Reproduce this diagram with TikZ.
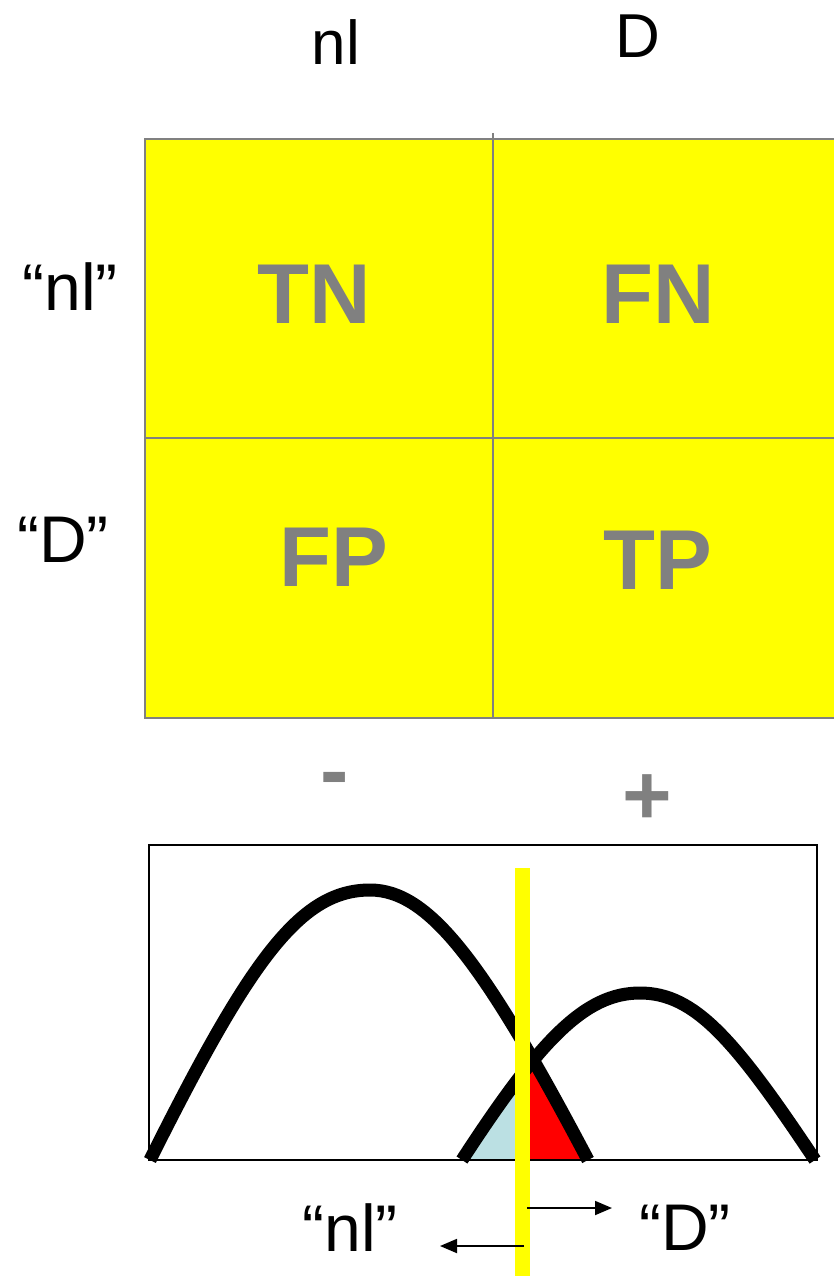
\documentclass[tikz,border=0pt]{standalone}
\usepackage{fontspec}
\setmainfont{Liberation Sans}
\usetikzlibrary{arrows.meta}
\definecolor{cellgray}{HTML}{808080}
\definecolor{lightblue}{HTML}{BBE0E3}
\definecolor{pureyellow}{RGB}{255,255,0}
\definecolor{purered}{RGB}{255,0,0}
\begin{document}
\begin{tikzpicture}[x=1pt,y=-1pt,
  celltext/.style={font=\fontsize{85}{85}\selectfont\bfseries, text=cellgray, inner sep=0pt},
  toplabel/.style={font=\fontsize{62}{62}\selectfont, inner sep=0pt},
  sidelabel/.style={font=\fontsize{66}{66}\selectfont, inner sep=0pt},
  gridline/.style={draw=cellgray, line width=2pt},
  curve/.style={line width=13pt, black},
  thinarrow/.style={line width=1.8pt, -{Triangle[length=17pt,width=14pt]}}
]
\useasboundingbox (0,0) rectangle (833,1276);
% confusion matrix
\fill[pureyellow] (145,139) rectangle (840,718);
\draw[gridline] (840,139) -- (145,139) -- (145,718) -- (840,718);
\draw[gridline] (145,438) -- (840,438);
\draw[gridline] (493,133) -- (493,718);
\node[toplabel] (colnl) at (336,42) {nl};
\node[toplabel] (colD) at (638,36) {D};
\node[sidelabel] (rownl) at (70,287) {“nl”};
\node[sidelabel] (rowD) at (63,540) {“D”};
\node[celltext] (TN) at (314,294) {TN};
\node[celltext] (FN) at (658,294) {FN};
\node[celltext] (FP) at (334,557) {FP};
\node[celltext] (TP) at (658,560) {TP};
\node[celltext, anchor=base] (minus) at (335,799) {-};
\node[celltext] (plus) at (647,800) {+};
% distributions
\def\leftcurve{(150,1160) .. controls (250,960) and (300,890) .. (370,890) .. controls (430,890) and (485,965) .. (588,1160)}
\def\rightcurve{(462,1160) .. controls (540,1040) and (585,993) .. (640,993) .. controls (695,993) and (735,1040) .. (815,1160)}
\begin{scope}
  \clip \leftcurve -- cycle;
  \begin{scope}
    \clip (400,800) rectangle (522,1160);
    \fill[lightblue] \rightcurve -- cycle;
  \end{scope}
  \begin{scope}
    \clip (522,800) rectangle (700,1160);
    \fill[purered] \rightcurve -- cycle;
  \end{scope}
\end{scope}
\draw[curve] \leftcurve;
\draw[curve] \rightcurve;
\draw[line width=2pt] (149,845) rectangle (817,1160);
\fill[pureyellow] (515,868) rectangle (530,1276);
\coordinate (thr1) at (527,1208);
\coordinate (dend) at (612,1208);
\coordinate (thr2) at (524,1246);
\coordinate (nlend) at (440,1246);
\draw[thinarrow] (thr1) -- (dend);
\draw[thinarrow] (thr2) -- (nlend);
\node[sidelabel] (outnl) at (350,1228) {“nl”};
\node[sidelabel] (outD) at (685,1228) {“D”};
\end{tikzpicture}
\end{document}
